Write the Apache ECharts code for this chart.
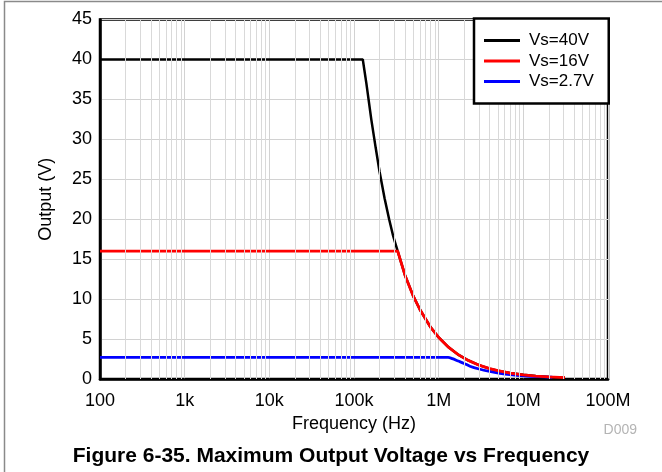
<!DOCTYPE html>
<html>
<head>
<meta charset="utf-8">
<title>Maximum Output Voltage vs Frequency</title>
<script src="https://cdn.jsdelivr.net/npm/echarts@6/dist/echarts.min.js"></script>
<style>
  html, body { margin: 0; padding: 0; background: #fff; }
  #chart { width: 662px; height: 472px; }
</style>
</head>
<body>
<div id="chart"></div>
<script>
// Frequency (Hz) / output (V) pairs for each supply voltage
const vs40 = [
  [100, 40], [127000, 40], [140000, 37], [160000, 32.5], [180000, 29],
  [200000, 26], [230000, 22.6], [260000, 20], [290000, 17.9], [328000, 16],
  [400000, 13], [500000, 10.4], [600000, 8.7], [800000, 6.5], [1000000, 5.2],
  [1300000, 4.0], [1700000, 3.05], [2200000, 2.36], [3000000, 1.73],
  [4000000, 1.3], [5000000, 1.04], [7000000, 0.74], [10000000, 0.52],
  [14000000, 0.37], [20000000, 0.26], [31000000, 0.17]
];
const vs16 = [
  [100, 16], [328000, 16],
  [400000, 13], [500000, 10.4], [600000, 8.7], [800000, 6.5], [1000000, 5.2],
  [1300000, 4.0], [1700000, 3.05], [2200000, 2.36], [3000000, 1.73],
  [4000000, 1.3], [5000000, 1.04], [7000000, 0.74], [10000000, 0.52],
  [14000000, 0.37], [20000000, 0.26], [31000000, 0.17]
];
const vs27 = [
  [100, 2.7], [1290000, 2.7], [1450000, 2.55], [1700000, 2.25], [2000000, 1.95],
  [2340000, 1.6], [3000000, 1.25], [4000000, 0.95], [5300000, 0.72],
  [7000000, 0.55], [10000000, 0.4], [15000000, 0.29], [22000000, 0.22]
];

const seriesNames = ['Vs=40V', 'Vs=16V', 'Vs=2.7V'];
const seriesColors = ['#000000', '#ff0000', '#0000ff'];

// Decade tick labels of the frequency axis
const freqTicks = [100, 1e3, 1e4, 1e5, 1e6, 1e7, 1e8];
const freqTickLabels = ['100', '1k', '10k', '100k', '1M', '10M', '100M'];

// Minor log grid lines at 2..9 of every decade
const minorLines = [];
for (let d = 0; d < freqTicks.length - 1; d++) {
  for (let m = 2; m <= 9; m++) {
    minorLines.push({ xAxis: freqTicks[d] * m });
  }
}

const FONT = 'Liberation Sans, Arial, Helvetica, sans-serif';

const chart = echarts.init(document.getElementById('chart'), null, { renderer: 'canvas' });

chart.setOption({
  animation: false,
  backgroundColor: '#ffffff',
  textStyle: { fontFamily: FONT },
  grid: {
    left: 100, right: 54, top: 19.5, bottom: 93,
    show: true, borderColor: '#000', borderWidth: 2.5, backgroundColor: 'transparent',
    containLabel: false
  },
  legend: {
    data: seriesNames,
    orient: 'vertical',
    left: 474, top: 18.5,
    padding: [12, 15, 12, 10],
    backgroundColor: '#fff',
    borderColor: '#000', borderWidth: 2.5, borderRadius: 0,
    icon: 'rect',
    itemWidth: 36, itemHeight: 3, itemGap: 0.5,
    textStyle: { fontFamily: FONT, fontSize: 17, color: '#000', lineHeight: 20, padding: [0, 0, 0, 4] },
    z: 10
  },
  xAxis: {
    type: 'log', logBase: 10, min: 100, max: 1e8,
    name: 'Frequency (Hz)', nameLocation: 'middle', nameGap: 34,
    nameTextStyle: { fontFamily: FONT, fontSize: 18, color: '#000' },
    axisLine: { show: true, onZero: false, lineStyle: { color: '#000', width: 2.5 } },
    axisTick: { show: false },
    axisLabel: {
      fontFamily: FONT, fontSize: 18, color: '#000', margin: 13,
      formatter: v => {
        const i = freqTicks.findIndex(t => Math.abs(Math.log10(t) - Math.log10(v)) < 1e-6);
        return i >= 0 ? freqTickLabels[i] : '';
      }
    },
    splitLine: { show: true, lineStyle: { color: '#d2d2d2', width: 1 } }
  },
  yAxis: {
    type: 'value', min: 0, max: 45, interval: 5,
    name: 'Output (V)', nameLocation: 'middle', nameGap: 45,
    nameTextStyle: { fontFamily: FONT, fontSize: 18, color: '#000' },
    axisLine: { show: true, lineStyle: { color: '#000', width: 2.5 } },
    axisTick: { show: false },
    axisLabel: { fontFamily: FONT, fontSize: 18, color: '#000', margin: 8 },
    splitLine: { show: true, lineStyle: { color: '#d2d2d2', width: 1 } }
  },
  graphic: [
    {
      type: 'polyline', silent: true, z: 100,
      shape: { points: [[4.5, 472], [4.5, 1.5], [662, 1.5]] },
      style: { stroke: '#8a8a8a', lineWidth: 1.5, fill: null }
    },
    {
      type: 'text', right: 25, top: 423, silent: true,
      style: { text: 'D009', fontFamily: FONT, fontSize: 14, fill: '#b4b4b4' }
    },
    {
      type: 'text', left: 'center', top: 446, silent: true,
      style: {
        text: 'Figure 6-35. Maximum Output Voltage vs Frequency',
        fontFamily: FONT, fontSize: 21, fontWeight: 'bold', fill: '#000',
        x: -10
      }
    }
  ],
  series: [
    {
      name: 'minor-grid', type: 'line', z: 1, silent: true,
      data: [[100, 0], [1e8, 0]],
      showSymbol: false, lineStyle: { opacity: 0 },
      markLine: {
        silent: true, symbol: ['none', 'none'], label: { show: false },
        lineStyle: { color: '#d9d9d9', width: 1, type: 'solid' },
        emphasis: { disabled: true },
        data: minorLines
      }
    },
    {
      name: seriesNames[0], type: 'line', data: vs40, showSymbol: false,
      lineStyle: { color: seriesColors[0], width: 2.5 }, itemStyle: { color: seriesColors[0] }, z: 3
    },
    {
      name: seriesNames[1], type: 'line', data: vs16, showSymbol: false,
      lineStyle: { color: seriesColors[1], width: 2.8 }, itemStyle: { color: seriesColors[1] }, z: 4
    },
    {
      name: seriesNames[2], type: 'line', data: vs27, showSymbol: false, smooth: 0.3,
      lineStyle: { color: seriesColors[2], width: 2.8 }, itemStyle: { color: seriesColors[2] }, z: 3
    }
  ]
});
</script>
</body>
</html>
